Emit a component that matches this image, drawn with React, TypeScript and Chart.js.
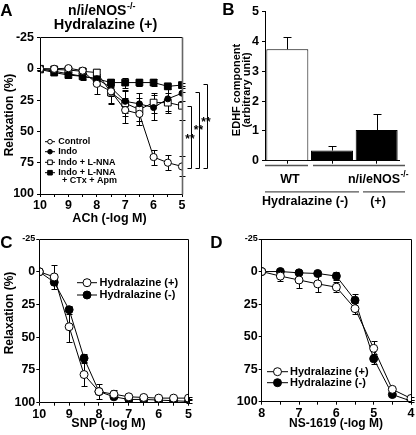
import React, { useEffect, useRef } from 'react';
import { Chart, registerables } from 'chart.js';

Chart.register(...registerables);

const FF = '"Liberation Sans", Arial, Helvetica, sans-serif';

// ---------- Panel A : ACh, n/i/eNOS-/- Hydralazine (+) ----------
const A_DOSES = [10, 9.5, 9, 8.5, 8, 7.5, 7, 6.5, 6, 5.5, 5];
const A_NAMES = ['Control', 'Indo', 'Indo + L-NNA', 'Indo + L-NNA'];
const A_NAME_EXTRA = '+ CTx + Apm';
const A_CONTROL = [0, 0, -0.5, 1.5, 12, 18, 33, 36, 70.5, 75, 78];
const A_CONTROL_ERR = [1, 1, 1.5, 2, 8, 9, 10, 9, 6, 6, 8];
const A_INDO = [0, 2, 4, 6, 8, 15, 26, 28, 31, 24, 19.5];
const A_INDO_ERR = [1, 1.5, 3, 3, 4, 7, 9, 9, 10, 10, 6];
const A_INDO_LNNA = [0, 0.5, 1, 2, 3, 19, 27.5, 32.5, 27, 27, 29.5];
const A_INDO_LNNA_ERR = [1, 1, 1.5, 2, 3, 9, 10, 9, 8, 8, 11];
const A_INDO_LNNA_CTX = [0.5, 3, 5, 6, 8, 11, 11, 11, 11, 14, 13];
const A_INDO_LNNA_CTX_ERR = [1, 1, 2, 2, 2, 3, 4, 3, 3, 2, 2];
const A_Y_TICKS = [-25, 0, 25, 50, 75, 100];

// ---------- Panel B : EDHF component ----------
const B_GROUPS = ['WT', 'n/i/eNOS-/- Hydralazine (-)', 'n/i/eNOS-/- Hydralazine (+)'];
const B_VALUES = [3.74, 0.34, 1.03];
const B_ERRORS = [0.42, 0.17, 0.53];

// ---------- Panel C : SNP ----------
const C_DOSES = [10, 9.5, 9, 8.5, 8, 7.5, 7, 6.5, 6, 5.5, 5];
const C_HYD_POS = [0, 4, 42, 78.5, 91.5, 93.5, 95.5, 96, 96.5, 96.5, 96.5];
const C_HYD_POS_ERR = [0, 9, 12, 9, 6, 3, 1.5, 1, 1, 1, 1];
const C_HYD_NEG = [0, 8, 29, 66, 91.5, 95.5, 97.5, 97.5, 98, 98.5, 99];
const C_HYD_NEG_ERR = [0, 2, 3, 3, 2, 1, 1, 1, 1, 1, 1];

// ---------- Panel D : NS-1619 ----------
const D_DOSES = [8, 7.5, 7, 6.5, 6, 5.5, 5, 4.5, 4];
const D_HYD_POS = [0, 3.5, 6.5, 9.5, 12, 28.5, 59, 90.5, 97.5];
const D_HYD_POS_ERR = [0, 4, 6, 6, 4, 4, 6, 2, 1];
const D_HYD_NEG = [0, 0, 1, 1.5, 3.5, 22, 67, 94.5, 99.5];
const D_HYD_NEG_ERR = [0, 1, 1, 1.5, 3, 5, 4, 1, 1];

const CD_NAMES = ['Hydralazine (+)', 'Hydralazine (-)'];

type Pt = { x: number; y: number };
const toPoints = (xs: number[], ys: number[]): Pt[] => xs.map((x, i) => ({ x, y: ys[i] }));

function bold(size: number) {
  return `bold ${size}px ${FF}`;
}

function text(ctx: any, s: string, x: number, y: number, size: number, align = 'center', rotate = 0) {
  ctx.save();
  ctx.font = bold(size);
  ctx.fillStyle = '#000';
  ctx.textAlign = align;
  ctx.textBaseline = 'middle';
  ctx.translate(x, y);
  if (rotate) ctx.rotate(rotate);
  ctx.fillText(s, 0, 0);
  ctx.restore();
}

function supText(ctx: any, main: string, sup: string, cx: number, cy: number, size: number, supSize: number) {
  ctx.save();
  ctx.fillStyle = '#000';
  ctx.textBaseline = 'middle';
  ctx.textAlign = 'left';
  ctx.font = bold(size);
  const w1 = ctx.measureText(main).width;
  ctx.font = bold(supSize);
  const w2 = ctx.measureText(sup).width;
  const x0 = cx - (w1 + w2) / 2;
  ctx.font = bold(size);
  ctx.fillText(main, x0, cy);
  ctx.font = bold(supSize);
  ctx.fillText(sup, x0 + w1 + 0.5, cy - size * 0.36);
  ctx.restore();
}

function marker(ctx: any, kind: string, x: number, y: number, r: number) {
  ctx.save();
  ctx.beginPath();
  if (kind.indexOf('Circle') >= 0) ctx.arc(x, y, r, 0, Math.PI * 2);
  else ctx.rect(x - r, y - r, 2 * r, 2 * r);
  ctx.fillStyle = kind.indexOf('open') === 0 ? '#fff' : '#000';
  ctx.fill();
  ctx.strokeStyle = '#000';
  ctx.lineWidth = 1;
  ctx.stroke();
  ctx.restore();
}

function hline(ctx: any, x1: number, x2: number, y: number, color = '#000', w = 1) {
  ctx.save();
  ctx.strokeStyle = color;
  ctx.lineWidth = w;
  ctx.beginPath();
  ctx.moveTo(x1, y);
  ctx.lineTo(x2, y);
  ctx.stroke();
  ctx.restore();
}

const errorBars = {
  id: 'errorBars',
  beforeDatasetsDraw(chart: any) {
    const { ctx } = chart;
    chart.data.datasets.forEach((ds: any, di: number) => {
      if (!ds.errors) return;
      const meta = chart.getDatasetMeta(di);
      const ys = chart.scales[meta.yAxisID];
      const cap = ds.capHalf ?? 3;
      ctx.save();
      ctx.strokeStyle = '#000';
      ctx.lineWidth = 1;
      meta.data.forEach((el: any, i: number) => {
        const e = ds.errors[i];
        if (!e) return;
        const raw = ds.data[i];
        const v = typeof raw === 'number' ? raw : raw.y;
        const x = Math.round(el.x) + 0.5;
        const yHi = Math.round(ys.getPixelForValue(v + e)) + 0.5;
        const yLo = ds.errorUpOnly ? ys.getPixelForValue(v) : Math.round(ys.getPixelForValue(v - e)) + 0.5;
        ctx.beginPath();
        ctx.moveTo(x, yLo);
        ctx.lineTo(x, yHi);
        ctx.moveTo(x - cap, yHi);
        ctx.lineTo(x + cap, yHi);
        if (!ds.errorUpOnly) {
          ctx.moveTo(x - cap, yLo);
          ctx.lineTo(x + cap, yLo);
        }
        ctx.stroke();
      });
      ctx.restore();
    });
  },
};

function makeFrame(rightColor = '#000', rightWidth = 1) {
  return {
    id: 'frame',
    afterDatasetsDraw(chart: any) {
      const { ctx, chartArea: a } = chart;
      const l = Math.floor(a.left) + 0.5;
      const r = Math.floor(a.right) + 0.5;
      const t = Math.floor(a.top) + 0.5;
      const b = Math.floor(a.bottom) + 0.5;
      ctx.save();
      ctx.strokeStyle = '#000';
      ctx.lineWidth = 1;
      ctx.beginPath();
      ctx.moveTo(r, t);
      ctx.lineTo(l, t);
      ctx.lineTo(l, b);
      ctx.lineTo(r, b);
      ctx.stroke();
      ctx.strokeStyle = rightColor;
      ctx.lineWidth = rightWidth;
      ctx.beginPath();
      ctx.moveTo(r, t);
      ctx.lineTo(r, b);
      ctx.stroke();
      ctx.restore();
    },
  };
}

function makeAnnot(left: number, top: number, draw: (ctx: any, chart: any) => void) {
  return {
    id: 'annot',
    afterDraw(chart: any) {
      const ctx = chart.ctx;
      ctx.save();
      ctx.translate(-left, -top);
      draw(ctx, chart);
      ctx.restore();
    },
  };
}

const STYLES: Record<string, any> = {
  openCircleSmall: { pointStyle: 'circle', pointRadius: 3.6, pointBackgroundColor: '#fff' },
  filledCircleSmall: { pointStyle: 'circle', pointRadius: 3, pointBackgroundColor: '#000' },
  openSquare: { pointStyle: 'rect', pointRadius: 4.8, pointBackgroundColor: '#fff' },
  filledSquare: { pointStyle: 'rect', pointRadius: 4.8, pointBackgroundColor: '#000' },
  openCircle: { pointStyle: 'circle', pointRadius: 4, pointBackgroundColor: '#fff' },
  filledCircle: { pointStyle: 'circle', pointRadius: 4, pointBackgroundColor: '#000' },
};

function lineDs(label: string, xs: number[], ys: number[], errs: number[], style: string) {
  return {
    label,
    data: toPoints(xs, ys),
    errors: errs,
    borderColor: '#000',
    borderWidth: 1,
    pointBorderColor: '#000',
    pointBorderWidth: 1,
    pointHoverRadius: 0,
    showLine: true,
    fill: false,
    tension: 0,
    ...STYLES[style],
  };
}

const gridTicks = (len: number) => ({
  display: true,
  drawOnChartArea: false,
  drawTicks: true,
  tickLength: len,
  color: '#000',
  lineWidth: 1,
});

function doseAxis(min: number, max: number, height: number, pad: number) {
  return {
    type: 'linear',
    min,
    max,
    reverse: true,
    afterFit: (s: any) => {
      s.height = height;
    },
    border: { display: false },
    grid: gridTicks(3),
    ticks: {
      stepSize: 0.5,
      autoSkip: false,
      maxRotation: 0,
      minRotation: 0,
      padding: pad,
      color: '#000',
      font: { family: FF, size: 12.5, weight: 'bold' },
      callback: (v: number) => (Number.isInteger(v) ? String(v) : ''),
    },
  };
}

function relaxAxis(width: number, smallTop: boolean, pad: number) {
  return {
    type: 'linear',
    min: -25,
    max: 100,
    reverse: true,
    afterFit: (s: any) => {
      s.width = width;
    },
    afterBuildTicks: (s: any) => {
      s.ticks = A_Y_TICKS.map((v) => ({ value: v }));
    },
    border: { display: false },
    grid: gridTicks(3),
    ticks: {
      padding: pad,
      color: '#000',
      font: (c: any) => ({
        family: FF,
        size: smallTop && c.tick && c.tick.value === -25 ? 9 : 12.5,
        weight: 'bold',
      }),
    },
  };
}

const baseOptions = {
  responsive: false,
  animation: false,
  devicePixelRatio: 1,
  events: [],
};

function configA(left: number, top: number) {
  return {
    type: 'line',
    data: {
      datasets: [
        lineDs(A_NAMES[0], A_DOSES, A_CONTROL, A_CONTROL_ERR, 'openCircleSmall'),
        lineDs(A_NAMES[1], A_DOSES, A_INDO, A_INDO_ERR, 'filledCircleSmall'),
        lineDs(A_NAMES[2], A_DOSES, A_INDO_LNNA, A_INDO_LNNA_ERR, 'openSquare'),
        lineDs(A_NAMES[3] + ' ' + A_NAME_EXTRA, A_DOSES, A_INDO_LNNA_CTX, A_INDO_LNNA_CTX_ERR, 'filledSquare'),
      ],
    },
    options: {
      ...baseOptions,
      layout: { padding: { top: 37.5, right: 33, left: 0, bottom: 0 } },
      scales: {
        x: doseAxis(5, 10, 38, 1),
        y: relaxAxis(40, false, 3),
      },
      plugins: { legend: { display: false }, tooltip: { enabled: false } },
    },
    plugins: [
      errorBars,
      makeFrame('#666', 1.6),
      makeAnnot(left, top, (ctx, chart) => {
        text(ctx, 'A', 6.5, 11, 17);
        supText(ctx, 'n/i/eNOS', '-/-', 101.5, 11.5, 14, 9);
        text(ctx, 'Hydralazine (+)', 105.5, 25, 14.5);
        text(ctx, 'Relaxation (%)', 10, 115, 12, 'center', -Math.PI / 2);
        text(ctx, 'ACh (-log M)', 109.5, 218.5, 12.5);
        // legend
        const kinds = ['openCircle', 'filledCircle', 'openSquare', 'filledSquare'];
        const rows = [141.7, 151.7, 162.3, 172.7];
        kinds.forEach((k, i) => {
          hline(ctx, 45, 55, rows[i]);
          marker(ctx, k, 50, rows[i], 2.3);
          text(ctx, A_NAMES[i], 58.3, rows[i], 9, 'left');
        });
        text(ctx, A_NAME_EXTRA, 62, 180.7, 9, 'left');
        // significance brackets
        const y = chart.scales.y;
        const right = chart.chartArea.right;
        const yCtl = y.getPixelForValue(A_CONTROL[A_CONTROL.length - 1]) + 2;
        const tops = [
          y.getPixelForValue(A_INDO_LNNA[A_INDO_LNNA.length - 1]),
          y.getPixelForValue(A_INDO[A_INDO.length - 1]) - 1,
          y.getPixelForValue(A_INDO_LNNA_CTX[A_INDO_LNNA_CTX.length - 1]) - 1,
        ];
        const xs = [right + 9, right + 16.5, right + 25];
        ctx.save();
        ctx.strokeStyle = '#000';
        ctx.lineWidth = 1;
        tops.forEach((t, i) => {
          const xv = Math.round(xs[i]) + 0.5;
          ctx.beginPath();
          ctx.moveTo(xv - 4, Math.round(t) + 0.5);
          ctx.lineTo(xv, Math.round(t) + 0.5);
          ctx.lineTo(xv, Math.round(yCtl) + 0.5);
          ctx.lineTo(xv - 4, Math.round(yCtl) + 0.5);
          ctx.stroke();
        });
        ctx.restore();
        const starY = [137, 128, 120];
        const starX = [190, 198.5, 206];
        starY.forEach((sy, i) => text(ctx, '**', starX[i], sy + 3, 12));
      }),
    ],
  };
}

function configB(left: number, top: number) {
  return {
    type: 'bar',
    data: {
      labels: B_GROUPS,
      datasets: [
        {
          label: 'EDHF component',
          data: B_VALUES,
          errors: B_ERRORS,
          errorUpOnly: true,
          capHalf: 4,
          backgroundColor: ['#fff', '#000', '#000'],
          borderColor: '#000',
          borderWidth: 1,
          barPercentage: 0.94,
          categoryPercentage: 1,
        },
      ],
    },
    options: {
      ...baseOptions,
      layout: { padding: { top: 11.7, right: 17, left: 0, bottom: 0 } },
      scales: {
        x: {
          type: 'category',
          afterFit: (s: any) => {
            s.height = 54.3;
          },
          border: { display: true, color: '#000' },
          grid: { ...gridTicks(3), offset: false },
          ticks: { display: true, callback: () => '', padding: 0 },
        },
        y: {
          type: 'linear',
          min: 0,
          max: 5,
          afterFit: (s: any) => {
            s.width = 60;
          },
          border: { display: true, color: '#000' },
          grid: gridTicks(3),
          ticks: {
            stepSize: 1,
            padding: 3,
            color: '#000',
            font: { family: FF, size: 12.5, weight: 'bold' },
          },
        },
      },
      plugins: { legend: { display: false }, tooltip: { enabled: false } },
    },
    plugins: [
      errorBars,
      makeAnnot(left, top, (ctx, chart) => {
        text(ctx, 'B', 228.5, 10, 17);
        text(ctx, 'EDHF component', 236.7, 90, 11, 'center', -Math.PI / 2);
        text(ctx, '(arbitrary unit)', 246.7, 90, 11, 'center', -Math.PI / 2);
        const xs = chart.scales.x;
        const ys = chart.scales.y;
        const c0 = Math.round(xs.getPixelForValue(0)) + 0.5;
        const c1 = Math.round(xs.getPixelForValue(1)) + 0.5;
        const c2 = Math.round(xs.getPixelForValue(2)) + 0.5;
        const yTop = Math.round(ys.getPixelForValue(5)) + 0.5;
        ctx.save();
        ctx.strokeStyle = '#000';
        ctx.lineWidth = 1;
        ctx.beginPath();
        ctx.moveTo(c0, yTop + 6.5);
        ctx.lineTo(c0, yTop);
        ctx.lineTo(c2, yTop);
        ctx.lineTo(c2, yTop + 6.5);
        ctx.moveTo(c0, yTop + 18.5);
        ctx.lineTo(c0, yTop + 12);
        ctx.lineTo(c1, yTop + 12);
        ctx.lineTo(c1, yTop + 18.5);
        ctx.stroke();
        ctx.restore();
        text(ctx, '**', (c0 + c2) / 2, 8, 12);
        text(ctx, '**', (c0 + c1) / 2, 20, 12);
        // group labels
        hline(ctx, 265, 308, 165.5, '#555', 1.3);
        hline(ctx, 313, 405, 165.5, '#555', 1.3);
        text(ctx, 'WT', 290, 179.5, 12.5);
        supText(ctx, 'n/i/eNOS', '-/-', 378, 179.5, 12.5, 8.5);
        hline(ctx, 265, 359, 191.8, '#555', 1.3);
        hline(ctx, 363, 405, 191.8, '#555', 1.3);
        text(ctx, 'Hydralazine', 262, 202, 12.5, 'left');
        text(ctx, '(-)', 342, 202, 12.5);
        text(ctx, '(+)', 378, 202, 12.5);
      }),
    ],
  };
}

function configCD(
  left: number,
  top: number,
  doses: number[],
  pos: number[],
  posErr: number[],
  neg: number[],
  negErr: number[],
  xmin: number,
  xmax: number,
  yWidth: number,
  padRight: number,
  xHeight: number,
  extra: (ctx: any) => void
) {
  return {
    type: 'line',
    data: {
      datasets: [
        lineDs(CD_NAMES[0], doses, pos, posErr, 'openCircle'),
        lineDs(CD_NAMES[1], doses, neg, negErr, 'filledCircle'),
      ],
    },
    options: {
      ...baseOptions,
      layout: { padding: { top: 24, right: padRight, left: 0, bottom: 0 } },
      scales: {
        x: doseAxis(xmin, xmax, xHeight, 1),
        y: relaxAxis(yWidth, true, 1),
      },
      plugins: { legend: { display: false }, tooltip: { enabled: false } },
    },
    plugins: [
      errorBars,
      makeFrame(),
      makeAnnot(left, top, (ctx) => {
        extra(ctx);
      }),
    ],
  };
}

function cdLegend(ctx: any, x1: number, x2: number, tx: number, rows: number[]) {
  const kinds = ['openCircle', 'filledCircle'];
  kinds.forEach((k, i) => {
    hline(ctx, x1, x2, rows[i]);
    marker(ctx, k, (x1 + x2) / 2, rows[i], 4);
    text(ctx, CD_NAMES[i], tx, rows[i], 11, 'left');
  });
}

function configC(left: number, top: number) {
  return configCD(left, top, C_DOSES, C_HYD_POS, C_HYD_POS_ERR, C_HYD_NEG, C_HYD_NEG_ERR, 5, 10, 39.3, 16.5, 32.3, (ctx) => {
    text(ctx, 'C', 6.5, 243.5, 17);
    text(ctx, 'Relaxation (%)', 10, 313, 12, 'center', -Math.PI / 2);
    text(ctx, 'SNP (-log M)', 108.5, 423.5, 12.5);
    cdLegend(ctx, 77, 97, 99.5, [282.7, 295]);
  });
}

function configD(left: number, top: number) {
  return configCD(left, top, D_DOSES, D_HYD_POS, D_HYD_POS_ERR, D_HYD_NEG, D_HYD_NEG_ERR, 4, 8, 56.7, 2.5, 33.3, (ctx) => {
    text(ctx, 'D', 216.5, 243.5, 17);
    text(ctx, 'NS-1619 (-log M)', 336, 424, 12);
    cdLegend(ctx, 267, 288, 290, [371.7, 382.7]);
  });
}

function Panel(props: { left: number; top: number; width: number; height: number; make: (l: number, t: number) => any }) {
  const { left, top, width, height, make } = props;
  const ref = useRef<HTMLCanvasElement>(null);
  useEffect(() => {
    const chart = new Chart(ref.current as HTMLCanvasElement, make(left, top));
    return () => chart.destroy();
  }, []);
  return (
    <canvas
      ref={ref}
      width={width}
      height={height}
      style={{ position: 'absolute', left, top, width, height, display: 'block' }}
    />
  );
}

export default function App() {
  return (
    <div style={{ position: 'absolute', left: 0, top: 0, width: 416, height: 435, background: '#fff', overflow: 'hidden' }}>
      <Panel left={0} top={0} width={215} height={232} make={configA} />
      <Panel left={205} top={0} width={211} height={215} make={configB} />
      <Panel left={0} top={215} width={205} height={220} make={configC} />
      <Panel left={205} top={215} width={211} height={220} make={configD} />
    </div>
  );
}
